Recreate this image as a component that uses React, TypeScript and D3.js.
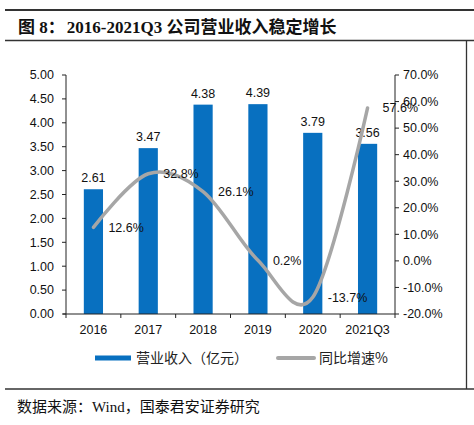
import React from "react";
import * as d3 from "d3";

const categories = ["2016", "2017", "2018", "2019", "2020", "2021Q3"];
const revenue = [2.61, 3.47, 4.38, 4.39, 3.79, 3.56];
const growth = [12.6, 32.8, 26.1, 0.2, -13.7, 57.6];
const leftTicks = [0, 0.5, 1, 1.5, 2, 2.5, 3, 3.5, 4, 4.5, 5];
const rightTicks = [-20, -10, 0, 10, 20, 30, 40, 50, 60, 70];
const titleHead = "图 8：";
const titleBody = "2016-2021Q3 公司营业收入稳定增长";
const source = "数据来源：Wind，国泰君安证券研究";
const legendLabels = ["营业收入（亿元）", "同比增速%"];

const W = 474, H = 425;
const plot = { left: 66, right: 395, top: 75, bottom: 314 };
const BLUE = "#0870C0";
const GRAY = "#A6A6A6";
const SANS = "'Liberation Sans', Arial, sans-serif";
const CJK = "'Noto Sans CJK SC', sans-serif";
const SERIF = "'Liberation Serif', 'Times New Roman', serif";

export default function App() {
  const x = d3.scaleBand<string>().domain(categories).range([plot.left, plot.right]).paddingInner(0.65).paddingOuter(0.325);
  const xOuter = d3.scaleBand<string>().domain(categories).range([plot.left, plot.right]);
  const yL = d3.scaleLinear().domain([0, 5]).range([plot.bottom, plot.top]);
  const yR = d3.scaleLinear().domain([-20, 70]).range([plot.bottom, plot.top]);
  const cx = (c: string) => (xOuter(c) as number) + xOuter.bandwidth() / 2;
  const pts: [number, number][] = categories.map((c, i) => [cx(c), yR(growth[i])]);
  const line = d3.line().curve(d3.curveCardinal.tension(0))(pts) as string;
  const boundaries = d3.range(categories.length + 1).map((i) => plot.left + i * xOuter.bandwidth());

  return (
    <svg width={W} height={H} style={{ position: "absolute", left: 0, top: 0, background: "#fff" }}>
      {/* frame */}
      <line x1={5} x2={W} y1={10} y2={10} stroke="#333" strokeWidth={2} />
      <text x={18} y={33} fontFamily={`${SERIF}, ${CJK}`} fontWeight="bold" fontSize={17} fill="#111">
        <tspan>{titleHead}</tspan>
        <tspan dx={2}>{titleBody}</tspan>
      </text>
      <line x1={5} x2={W} y1={40.5} y2={40.5} stroke="#333" strokeWidth={1.3} />
      <line x1={466.5} x2={466.5} y1={40} y2={389} stroke="#333" strokeWidth={1.3} />
      <line x1={5} x2={W} y1={389} y2={389} stroke="#333" strokeWidth={1.3} />
      <text x={17} y={412} fontFamily={`${SERIF}, ${CJK}`} fontSize={15} fill="#111">{source}</text>

      {/* bars */}
      {categories.map((c, i) => (
        <rect key={c} x={x(c)} y={yL(revenue[i])} width={x.bandwidth()} height={plot.bottom - yL(revenue[i])} fill={BLUE} />
      ))}
      {categories.map((c, i) => (
        <text key={"bl" + c} x={cx(c)} y={yL(revenue[i]) - 7} textAnchor="middle" fontFamily={SANS} fontSize={12.5} fill="#111">{revenue[i].toFixed(2)}</text>
      ))}

      {/* line */}
      <path d={line} fill="none" stroke={GRAY} strokeWidth={3.5} strokeLinecap="round" />
      {pts.map((p, i) => (
        <text key={"gl" + i} x={p[0] + 15} y={p[1]} dy="0.35em" fontFamily={SANS} fontSize={12.5} fill="#111">{growth[i].toFixed(1) + "%"}</text>
      ))}

      {/* left axis */}
      <line x1={plot.left} x2={plot.left} y1={plot.top} y2={plot.bottom} stroke="#222" strokeWidth={1} />
      {leftTicks.map((t) => (
        <g key={"lt" + t}>
          <line x1={plot.left - 4} x2={plot.left} y1={yL(t)} y2={yL(t)} stroke="#222" />
          <text x={plot.left - 12} y={yL(t)} dy="0.35em" textAnchor="end" fontFamily={SANS} fontSize={12.5} fill="#111">{t.toFixed(2)}</text>
        </g>
      ))}

      {/* right axis */}
      <line x1={plot.right} x2={plot.right} y1={plot.top} y2={plot.bottom} stroke="#222" strokeWidth={1} />
      {rightTicks.map((t) => (
        <g key={"rt" + t}>
          <line x1={plot.right} x2={plot.right + 4} y1={yR(t)} y2={yR(t)} stroke="#222" />
          <text x={plot.right + 8} y={yR(t)} dy="0.35em" fontFamily={SANS} fontSize={12.5} fill="#111">{t.toFixed(1) + "%"}</text>
        </g>
      ))}

      {/* x axis */}
      <line x1={plot.left - 3} x2={plot.right} y1={plot.bottom} y2={plot.bottom} stroke="#222" strokeWidth={1.2} />
      {boundaries.map((b, i) => (
        <line key={"xt" + i} x1={b} x2={b} y1={plot.bottom} y2={plot.bottom + 4} stroke="#222" />
      ))}
      {categories.map((c) => (
        <text key={"xl" + c} x={cx(c)} y={334} textAnchor="middle" fontFamily={SANS} fontSize={12.5} fill="#111">{c}</text>
      ))}

      {/* legend */}
      <line x1={95} x2={131} y1={358} y2={358} stroke={BLUE} strokeWidth={5} />
      <text x={136} y={358} dy="0.35em" fontFamily={CJK} fontSize={14} fill="#222">{legendLabels[0]}</text>
      <line x1={278} x2={314} y1={358} y2={358} stroke={GRAY} strokeWidth={4} strokeLinecap="round" />
      <text x={319} y={358} dy="0.35em" fontFamily={CJK} fontSize={14} fill="#222">{legendLabels[1]}</text>
    </svg>
  );
}
